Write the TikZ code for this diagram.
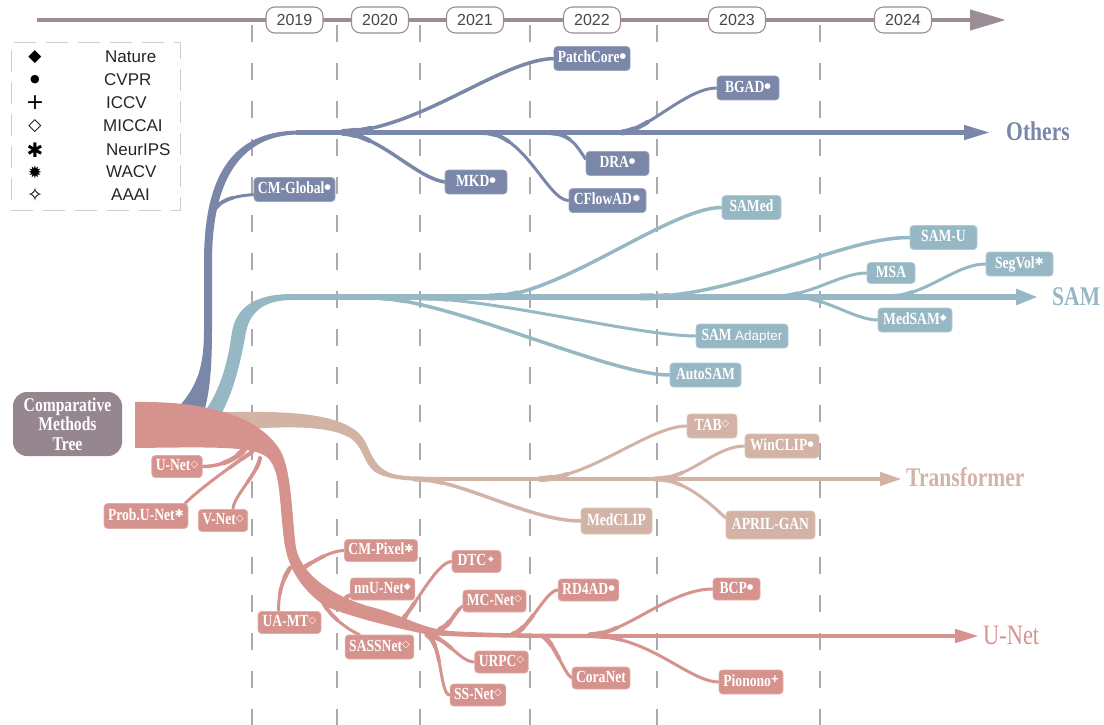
\documentclass[tikz,border=0pt]{standalone}
\usepackage{fontspec}
\usetikzlibrary{arrows.meta,calc}
\newfontfamily\nf{Liberation Serif}[FakeStretch=0.8]
\newfontfamily\lsans{Liberation Sans}
\newfontfamily\dsym{DejaVu Sans}
\definecolor{ocol}{RGB}{122,135,168}
\definecolor{scol}{RGB}{150,184,196}
\definecolor{tcol}{RGB}{210,179,166}
\definecolor{ucol}{RGB}{214,146,141}
\definecolor{rcol}{RGB}{150,134,144}
\definecolor{tlcol}{RGB}{155,140,150}
\definecolor{gcol}{RGB}{170,170,172}
\definecolor{lgcol}{RGB}{205,205,205}
\definecolor{ytxt}{RGB}{70,70,70}
\pgfdeclarelayer{guide}\pgfdeclarelayer{bg}\pgfsetlayers{guide,bg,main}
\newcommand\nfont{\nf\bfseries\fontsize{17}{19}\selectfont}
\newcommand\sdot{\raisebox{3.8pt}{\dsym\fontsize{7.5}{7.5}\selectfont ●}}
\newcommand\sdia{\raisebox{3.4pt}{\dsym\bfseries\fontsize{10}{10}\selectfont ◇}}
\newcommand\sast{\raisebox{2.6pt}{\dsym\fontsize{11}{11}\selectfont ✱}}
\newcommand\swac{\raisebox{2.6pt}{\dsym\fontsize{11}{11}\selectfont ✹}}
\newcommand\saaa{\raisebox{2.6pt}{\dsym\fontsize{11}{11}\selectfont ✦}}
\newcommand\snat{\raisebox{3.4pt}{\dsym\fontsize{9}{9}\selectfont ◆}}
\newcommand\spls{\raisebox{3pt}{\lsans\bfseries\fontsize{13}{13}\selectfont +}}
\newcommand\tbranch[4]{%
  \pgfmathsetmacro\brmid{(#2+#3)/2}%
  \draw[#1,line width=#3pt,line cap=round] #4;%
  \draw[#1,line width=\brmid pt,line cap=round,dash pattern=on 28pt off 4000pt] #4;%
  \draw[#1,line width=#2pt,line cap=round,dash pattern=on 12pt off 4000pt] #4;}
\begin{document}
\begin{tikzpicture}[x=1pt,y=-1pt,
  bx/.style={rounded corners=3.5pt, text=white, font=\nfont, inner xsep=4pt, inner ysep=0pt,
     minimum height=24pt, text height=11pt, text depth=2.5pt, line width=0.7pt},
  ob/.style={bx, fill=ocol, draw=ocol!75!white},
  sb/.style={bx, fill=scol, draw=scol!75!white},
  tb/.style={bx, fill=tcol, draw=tcol!75!white},
  ub/.style={bx, fill=ucol, draw=ucol!75!white, minimum height=22pt},
  yr/.style={draw=tlcol, line width=1.1pt, fill=white, rounded corners=9pt, minimum width=57pt,
     minimum height=26pt, inner sep=0pt, font=\lsans\fontsize{16}{16}\selectfont, text=ytxt},
  lsym/.style={font=\dsym, inner sep=0pt, text=black},
  ltxt/.style={anchor=west, inner sep=0pt, font=\lsans\fontsize{17}{17}\selectfont, text=black!85},
  cat/.style={anchor=west, inner sep=0pt, font=\nf\bfseries\fontsize{27}{27}\selectfont}]
\useasboundingbox (0,0) rectangle (1104,725);
% guides
\begin{pgfonlayer}{guide}
\foreach \gx in {252,337,420,530,657,820}{\draw[gcol, line width=1.3pt, dash pattern=on 17pt off 21pt] (\gx,25) -- (\gx,725);}
\end{pgfonlayer}
% timeline
\coordinate (tlS) at (37,20); \coordinate (tlE) at (1006,20);
\draw[tlcol, line width=4.5pt, -{Triangle[length=36pt,width=20pt]}] (tlS) -- (tlE);
\node[yr] (y19) at (294.5,20) {2019};
\node[yr] (y20) at (380,20) {2020};
\node[yr] (y21) at (475,20) {2021};
\node[yr] (y22) at (592,20) {2022};
\node[yr] (y23) at (737,20) {2023};
\node[yr] (y24) at (903,20) {2024};
% legend
\node[draw=lgcol, line width=1pt, dash pattern=on 22pt off 10pt, minimum width=169pt, minimum height=167pt, inner sep=0pt] (legend) at (95.5,126.5) {};
\node[lsym] (s1) at (35,57) {\fontsize{17}{17}\selectfont ◆};
\node[lsym] (s2) at (35,80) {\fontsize{11}{11}\selectfont ●};
\node[lsym] (s3) at (35,103) {\fontsize{22}{22}\selectfont +};
\node[lsym] (s4) at (35,126) {\fontsize{17}{17}\selectfont ◇};
\node[lsym] (s5) at (35,150) {\bfseries\fontsize{20}{20}\selectfont ✱};
\node[lsym] (s6) at (35,172) {\fontsize{17}{17}\selectfont ✹};
\node[lsym] (s7) at (35,195) {\fontsize{19}{19}\selectfont ✧};
\node[ltxt] (t1) at (105,57) {Nature};
\node[ltxt] (t2) at (104,80) {CVPR};
\node[ltxt] (t3) at (106,103) {ICCV};
\node[ltxt] (t4) at (103,126) {MICCAI};
\node[ltxt] (t5) at (106,150) {NeurIPS};
\node[ltxt] (t6) at (106,172) {WACV};
\node[ltxt] (t7) at (111,195) {AAAI};
% root
\node[rounded corners=14pt, fill=rcol, minimum width=109pt, minimum height=64pt, text=white, inner sep=0pt,
  font=\nf\bfseries\fontsize{19.5}{19.5}\selectfont, align=center] (root) at (67.5,424) {Comparative\\Methods\\Tree};
% Others nodes
\node[ob, minimum width=76pt] (PK) at (592,58.5) {PatchCore\sdot};
\node[ob, minimum width=62pt] (BG) at (748,88) {BGAD\sdot};
\node[ob, minimum width=63pt] (DRA) at (617.5,163.5) {DRA\sdot};
\node[ob, minimum width=77pt] (CF) at (607.5,200.5) {CFlowAD\swac};
\node[ob, minimum width=62pt] (MKD) at (476,182) {MKD\sdot};
\node[ob, minimum width=79pt] (CMG) at (294.5,189.5) {CM-Global\sdot};
% SAM nodes
\node[sb, minimum width=59pt] (SD) at (751.5,207.5) {SAMed};
\node[sb, minimum width=67pt] (SU) at (943.5,237.5) {SAM-U};
\node[sb, minimum width=48pt, minimum height=21pt] (MSA) at (891,273) {MSA};
\node[sb, minimum width=67pt] (SV) at (1019.5,264) {SegVol\sast};
\node[sb, minimum width=74pt] (MS) at (915,320) {MedSAM\snat};
\node[sb, minimum width=92pt] (SA) at (742,336) {SAM {\lsans\mdseries\fontsize{13.5}{14}\selectfont Adapter}};
\node[sb, minimum width=71pt] (AS) at (705.5,375) {AutoSAM};
% Transformer nodes
\node[tb, minimum width=50pt] (TAB) at (712,426) {TAB\sdia};
\node[tb, minimum width=74pt] (WC) at (782,446) {WinCLIP\sdot};
\node[tb, minimum width=71pt, minimum height=26pt] (MC) at (616.5,521) {MedCLIP};
\node[tb, minimum width=89pt, minimum height=28pt] (AG) at (770.5,525) {APRIL-GAN};
% U-Net nodes
\node[ub, minimum width=48pt] (UN) at (177,466.5) {U-Net\sdia};
\node[ub, minimum width=82pt, minimum height=25pt] (PU) at (146,516) {Prob.U-Net\sast};
\node[ub, minimum width=48pt] (VN) at (223,520.5) {V-Net\sdia};
\node[ub, minimum width=72pt] (CP) at (381,550.5) {CM-Pixel\sast};
\node[ub, minimum width=49pt] (DTC) at (476.5,561.5) {DTC\saaa};
\node[ub, minimum width=63pt] (NN) at (382.5,589) {nnU-Net\snat};
\node[ub, minimum width=61pt] (MCN) at (494.5,601) {MC-Net\sdia};
\node[ub, minimum width=57pt] (RD) at (588.5,590) {RD4AD\sdot};
\node[ub, minimum width=63pt] (UA) at (289.5,622.5) {UA-MT\sdia};
\node[ub, minimum width=65pt, minimum height=24pt] (SASS) at (379.5,647) {SASSNet\sdia};
\node[ub, minimum width=51pt] (UR) at (501.5,662) {URPC\sdia};
\node[ub, minimum width=52pt] (SSN) at (478,695) {SS-Net\sdia};
\node[ub, minimum width=56pt] (CR) at (601,678) {CoraNet};
\node[ub, minimum width=47pt] (BCP) at (736.5,589) {BCP\sdot};
\node[ub, minimum width=64pt, minimum height=24pt] (PI) at (751,682) {Pionono\spls};
% category labels
\node[cat, text=ocol] (lO) at (1006,131) {Others};
\node[cat, text=scol] (lS) at (1052,297) {SAM};
\node[cat, text=tcol] (lT) at (906,477) {Transformer};
\node[anchor=west, inner sep=0pt, font=\nf\fontsize{28}{28}\selectfont, text=ucol] (lU) at (983,635) {U-Net};
% ---------- trunks and branches ----------
\begin{pgfonlayer}{bg}
% transformer band
\fill[tcol] (200,413) .. controls (280,410) and (330,412) .. (355,430) .. controls (372,442) and (367,463) .. (390,473)
  .. controls (402,477) and (420,476.8) .. (445,476.8) -- (445,481.2) .. controls (415,481.2) and (390,481) .. (375,472)
  .. controls (363,463) and (364,447) .. (350,438) .. controls (330,426) and (290,424) .. (200,433) -- cycle;
% others trunk
\fill[ocol] (176,410) .. controls (196,388) and (204,370) .. (204,330) -- (204,262) .. controls (204,165) and (240,130.5) .. (300,130.5)
  -- (300,134.5) .. controls (246,134.5) and (212,172) .. (212,262) -- (212,330) .. controls (212,378) and (208,398) .. (204,412) -- cycle;
% SAM trunk
\fill[scol] (203,414) .. controls (222,388) and (228,360) .. (232,332) .. controls (236,308) and (254,294) .. (292,294)
  -- (292,300) .. controls (264,300) and (250,312) .. (246,332) .. controls (241,360) and (234,392) .. (220,416) -- cycle;
% main arrows
\coordinate (o0) at (296,132.5); \coordinate (oE) at (990,132.5);
\draw[ocol, line width=4.5pt, -{Triangle[length=26pt,width=14pt]}] (o0) -- (oE);
\coordinate (s0) at (290,297); \coordinate (sE) at (1038,297);
\draw[scol, line width=5.5pt, -{Triangle[length=22pt,width=15pt]}] (s0) -- (sE);
\coordinate (t0) at (443,479); \coordinate (tE) at (902,479);
\draw[tcol, line width=4.5pt, -{Triangle[length=22pt,width=13pt]}] (t0) -- (tE);
\coordinate (u0) at (608,636); \coordinate (uE) at (979,636);
\draw[ucol, line width=4.5pt, -{Triangle[length=24pt,width=13pt]}] (u0) -- (uE);
% Others branches
\coordinate (jCMG) at (211,214);
\tbranch{ocol}{4.5}{3}{(jCMG) .. controls +(8,-14) and +(-22,2) .. ([yshift=-5pt]CMG.west)}
\coordinate (jPK) at (343,132.5);
\tbranch{ocol}{7}{3.5}{(jPK) .. controls +(80,-5) and +(-54,2) .. (PK.west)}
\tbranch{ocol}{6}{3.5}{(jPK) .. controls +(40,5) and +(-30,-5) .. (MKD.west)}
\coordinate (jCF) at (483,132.5);
\tbranch{ocol}{5}{3}{(jCF) .. controls +(42,0.5) and +(-21,0) .. (CF.west)}
\coordinate (jDRA) at (543,132.5);
\tbranch{ocol}{4.5}{3}{(jDRA) .. controls +(28,0) and +(-10,-14) .. ([yshift=4.5pt]DRA.west)}
\coordinate (jBG) at (622,132.5);
\tbranch{ocol}{6}{3}{(jBG) .. controls +(25,-2) and +(-30,0) .. (BG.west)}
% SAM branches
\coordinate (jAS) at (377,297.5);
\tbranch{scol}{5}{3.5}{(jAS) .. controls +(80,5) and +(-60,0) .. (AS.west)}
\coordinate (jSA) at (420,298);
\tbranch{scol}{4.5}{3}{(jSA) .. controls +(80,2) and +(-56,0) .. (SA.west)}
\coordinate (jSD) at (490,297);
\tbranch{scol}{7}{3.5}{(jSD) .. controls +(70,-1) and +(-52,0) .. (SD.west)}
\coordinate (jSU) at (640,297);
\tbranch{scol}{7}{3.5}{(jSU) .. controls +(100,0) and +(-70,0) .. (SU.west)}
\coordinate (jMSA) at (770,297);
\tbranch{scol}{5}{3}{(jMSA) .. controls +(40,0) and +(-27,0) .. (MSA.west)}
\coordinate (jSV) at (885,297);
\tbranch{scol}{5}{3}{(jSV) .. controls +(40,0) and +(-31,0) .. (SV.west)}
\coordinate (jMS) at (795,297);
\tbranch{scol}{4}{3}{(jMS) .. controls +(30,0) and +(-23,0) .. (MS.west)}
% Transformer branches
\coordinate (jMC) at (415,479);
\tbranch{tcol}{5}{3.5}{(jMC) .. controls +(45,0) and +(-51,0) .. (MC.west)}
\coordinate (jTAB) at (540,479);
\tbranch{tcol}{6}{3}{(jTAB) .. controls +(50,-1) and +(-37,0) .. (TAB.west)}
\coordinate (jWC) at (655,479);
\tbranch{tcol}{5}{3}{(jWC) .. controls +(35,0) and +(-30,0) .. (WC.west)}
\tbranch{tcol}{4.5}{3}{(jWC) .. controls +(30,0) and +(-14,-13) .. ([yshift=7pt]AG.west)}
% U-Net upper branches
\coordinate (jUN) at (246,447);
\tbranch{ucol}{6}{3.5}{(jUN) .. controls +(-8,12) and +(18,0) .. (UN.east)}
\coordinate (jPU) at (252,452);
\tbranch{ucol}{4}{3}{(jPU) .. controls +(-15,10) and +(15,-15) .. ([xshift=-3pt]PU.north east)}
\coordinate (jVN) at (260,458);
\tbranch{ucol}{4}{3}{(jVN) .. controls +(-2,15) and +(0,-12) .. ([xshift=10pt]VN.north)}
% U-Net lower branches
\coordinate (jCP) at (300,570);
\tbranch{ucol}{4.5}{3}{(jCP) .. controls +(15,-10) and +(-12,0) .. (CP.west)}
\coordinate (jUA) at (290,568);
\tbranch{ucol}{4.5}{3}{(jUA) .. controls +(-10,15) and +(0,-12) .. ([xshift=-11pt]UA.north)}
\coordinate (jNN) at (338,604);
\tbranch{ucol}{4.5}{3}{(jNN) .. controls +(8,-2) and +(-6,3) .. ([yshift=-6pt]NN.west)}
\coordinate (jSS) at (322,598);
\tbranch{ucol}{4.5}{3}{(jSS) .. controls +(3,15) and +(-12,-5) .. ([xshift=-20pt]SASS.north)}
\coordinate (jDTC) at (398,625);
\tbranch{ucol}{5}{3}{(jDTC) .. controls +(15,-15) and +(-15,0) .. (DTC.west)}
\coordinate (jMCN) at (440,629);
\tbranch{ucol}{5}{3}{(jMCN) .. controls +(10,-3) and +(-8,6) .. ([yshift=-5pt]MCN.west)}
\coordinate (jUR) at (427,635);
\tbranch{ucol}{5}{3}{(jUR) .. controls +(20,2) and +(-15,0) .. (UR.west)}
\coordinate (jSSN) at (428,636);
\tbranch{ucol}{4.5}{3}{(jSSN) .. controls +(14,8) and +(-10,0) .. (SSN.west)}
\coordinate (jRD) at (513,634);
\tbranch{ucol}{5}{3}{(jRD) .. controls +(15,-3) and +(-12,0) .. (RD.west)}
\coordinate (jCR) at (543,636);
\tbranch{ucol}{5}{3}{(jCR) .. controls +(12,8) and +(-8,-5) .. (CR.west)}
\coordinate (jBCP) at (590,635);
\tbranch{ucol}{5.5}{3}{(jBCP) .. controls +(35,-1) and +(-43,0) .. (BCP.west)}
\coordinate (jPI) at (594,636);
\tbranch{ucol}{4.5}{3}{(jPI) .. controls +(56,1) and +(-29,0) .. (PI.west)}
% U-Net band (on top of other trunks)
\fill[ucol] (135,402) .. controls (205,401) and (258,415) .. (280,450) .. controls (292,470) and (292,520) .. (296,548)
  .. controls (302,576) and (335,598) .. (375,608) .. controls (405,616) and (420,628) .. (450,631)
  .. controls (500,634) and (560,633.8) .. (610,633.8) -- (610,638.2) .. controls (560,638.2) and (470,638) .. (430,635)
  .. controls (400,629) and (350,617) .. (325,606) .. controls (305,592) and (288,572) .. (284,540)
  .. controls (279,500) and (281,472) .. (268,458) .. controls (255,446) and (215,447) .. (135,448) -- cycle;
\end{pgfonlayer}
\end{tikzpicture}
\end{document}
